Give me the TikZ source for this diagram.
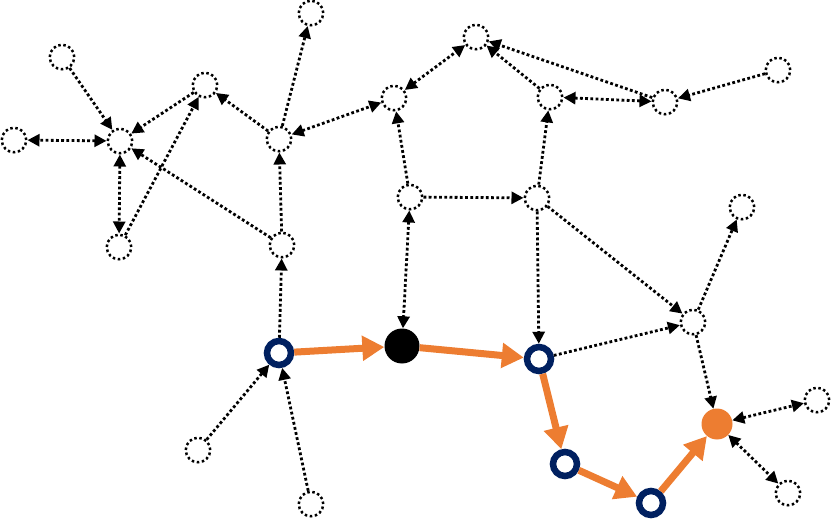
\documentclass[tikz,border=0pt]{standalone}
\usetikzlibrary{arrows.meta}
\definecolor{navy}{HTML}{002060}
\definecolor{org}{HTML}{ED7D31}
\begin{document}
\begin{tikzpicture}[x=1pt,y=-1pt,
  dnode/.style={circle,draw,line width=2.5pt,dash pattern=on 2.5pt off 2.6pt,minimum size=24.5pt,inner sep=0pt},
  bnode/.style={circle,draw=navy,line width=6.5pt,fill=white,minimum size=24pt,inner sep=0pt},
  dline/.style={line width=2.8pt,dash pattern=on 2.8pt off 2.4pt,-{Triangle[length=12pt,width=12pt]}},
  bline/.style={line width=2.8pt,dash pattern=on 2.8pt off 2.4pt,{Triangle[length=12pt,width=12pt]}-{Triangle[length=12pt,width=12pt]}},
  oline/.style={line width=7pt,draw=org,-{Triangle[length=22pt,width=24pt]}}]
\useasboundingbox (0,0) rectangle (831,524);
% dotted nodes
\node[dnode] (A) at (62,57) {};
\node[dnode] (B) at (120,141) {};
\node[dnode] (C) at (14,140) {};
\node[dnode] (D) at (119,247) {};
\node[dnode] (E) at (205,85) {};
\node[dnode] (F) at (279,139) {};
\node[dnode] (G) at (311,13) {};
\node[dnode] (H) at (282,245) {};
\node[dnode] (I) at (394,98) {};
\node[dnode] (J) at (476,37) {};
\node[dnode] (K) at (550,97) {};
\node[dnode] (L) at (665,102) {};
\node[dnode] (M) at (778,70) {};
\node[dnode] (N) at (410,197) {};
\node[dnode] (O) at (537,198) {};
\node[dnode] (P) at (742,207) {};
\node[dnode] (Q) at (693,322) {};
\node[dnode] (R) at (817,400) {};
\node[dnode] (S) at (788,493) {};
\node[dnode] (T) at (198,450) {};
\node[dnode] (U) at (311,504) {};
% path nodes
\node[bnode] (V1) at (279,353) {};
\node[circle,fill=black,minimum size=35pt,inner sep=0pt] (X) at (402,346) {};
\node[bnode] (V2) at (539,359) {};
\node[bnode] (V3) at (565,464) {};
\node[bnode] (V4) at (651,503) {};
\node[circle,fill=org,minimum size=31pt,inner sep=0pt] (Z) at (717,424) {};
% dotted edges
\draw[dline] (A) -- (B);
\draw[bline] (B) -- (C);
\draw[bline] (B) -- (D);
\draw[dline] (E) -- (B);
\draw[dline] (D) -- (E);
\draw[dline] (F) -- (E);
\draw[dline] (H) -- (B);
\draw[dline] (F) -- (G);
\draw[dline] (H) -- (F);
\draw[bline] (F) -- (I);
\draw[dline] (N) -- (I);
\draw[bline] (I) -- (J);
\draw[dline] (K) -- (J);
\draw[dline] (L) -- (J);
\draw[bline] (K) -- (L);
\draw[dline] (M) -- (L);
\draw[dline] (O) -- (K);
\draw[dline] (N) -- (O);
\draw[dline] (V1) -- (H);
\draw[bline] (N) -- (X);
\draw[dline] (T) -- (V1);
\draw[dline] (U) -- (V1);
\draw[dline] (O) -- (V2);
\draw[dline] (O) -- (Q);
\draw[dline] (V2) -- (Q);
\draw[dline] (Q) -- (P);
\draw[dline] (Q) -- (Z);
\draw[bline] (Z) -- (R);
\draw[bline] (Z) -- (S);
% orange path
\draw[oline] (V1) -- (X);
\draw[oline] (X) -- (V2);
\draw[oline] (V2) -- (V3);
\draw[oline] (V3) -- (V4);
\draw[oline] (V4) -- (Z);
\end{tikzpicture}
\end{document}
